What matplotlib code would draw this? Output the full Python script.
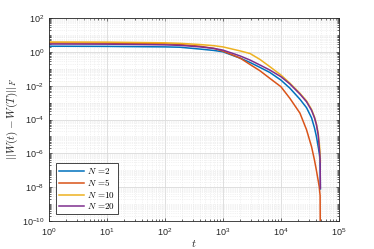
import numpy as np
import matplotlib
matplotlib.use("Agg")
import matplotlib.pyplot as plt
from matplotlib.ticker import FuncFormatter, LogLocator, FixedLocator, NullFormatter

plt.rcParams["font.family"] = ["Liberation Sans", "DejaVu Sans"]
plt.rcParams["mathtext.fontset"] = "cm"

# =========================
# DATA
# =========================
t = [1, 10, 100, 181, 400, 700, 1000, 1500, 2000, 2940, 4350, 6460, 10000,
     14300, 21300, 27700, 33800, 38000, 41000, 44000, 46000, 47500, 48000]

err_n2 = [2.14, 2.09, 1.95, 1.86, 1.45, 1.20, 1.0, 0.60, 0.417, 0.234, 0.120,
          0.060, 0.0214, 7.1e-3, 1.58e-3, 5.0e-4, 1.26e-4, 3.2e-5, 1e-5,
          2.5e-6, 1e-6, 4e-7, 7.9e-9]
err_n5 = [3.31, 3.24, 2.95, 2.69, 2.14, 1.58, 1.10, 0.63, 0.417, 0.178, 0.076,
          0.0269, 8.7e-3, 1.78e-3, 2.4e-4, 2.5e-5, 2.5e-6, 4e-7, 1e-7,
          2.5e-8, 1e-8, 3.2e-9, 1e-12]
err_n10 = [3.80, 3.72, 3.39, 3.16, 2.69, 2.29, 1.95, 1.41, 1.12, 0.79, 0.355,
           0.132, 0.0427, 0.0141, 3.55e-3, 1.26e-3, 3.98e-4, 1.41e-4, 5.6e-5,
           1.58e-5, 3.98e-6, 1e-6, 3.2e-7]
err_n20 = [2.88, 2.82, 2.57, 2.40, 1.95, 1.58, 1.26, 0.79, 0.56, 0.324, 0.166,
           0.083, 0.034, 0.0126, 3.2e-3, 1.12e-3, 3.5e-4, 1.26e-4, 5e-5,
           1.26e-5, 2e-6, 5e-7, 8.7e-9]

labels = [r"$N\,=\!2$", r"$N\,=\!5$", r"$N\,=\!10$", r"$N\,=\!20$"]
colors = ["#0072BD", "#D95319", "#EDB120", "#7E2F8E"]

# =========================
# PLOT
# =========================
fig = plt.figure(figsize=(3.74, 2.49), dpi=100)
ax = fig.add_axes([0.131, 0.112, 0.775, 0.816])

for y, lab, c in zip([err_n2, err_n5, err_n10, err_n20], labels, colors):
    ax.loglog(t, y, color=c, lw=1.1, label=lab)

ax.set_xlim(1, 1e5)
ax.set_ylim(1e-10, 1e2)

ax.xaxis.set_major_locator(FixedLocator([10.0**k for k in range(0, 6)]))
ax.yaxis.set_major_locator(FixedLocator([10.0**k for k in range(-10, 3, 2)]))
ax.yaxis.set_minor_locator(LogLocator(base=10, subs=np.arange(1, 10), numticks=30))
ax.xaxis.set_minor_locator(LogLocator(base=10, subs=np.arange(2, 10), numticks=30))

fmt = FuncFormatter(lambda v, p: r"$\mathregular{10^{%d}}$" % round(np.log10(v)))
ax.xaxis.set_major_formatter(fmt)
ax.yaxis.set_major_formatter(fmt)
ax.xaxis.set_minor_formatter(NullFormatter())
ax.yaxis.set_minor_formatter(NullFormatter())

ax.grid(True, which="major", color="#d9d9d9", lw=0.6)
ax.grid(True, which="minor", color="#e6e6e6", lw=0.5, ls=":")
ax.set_axisbelow(True)

ax.tick_params(which="both", direction="in", top=True, right=True,
               colors="#262626", labelsize=6.5, length=2.5, width=0.5)
ax.tick_params(which="minor", length=1.5)
for s in ax.spines.values():
    s.set_color("#262626")
    s.set_linewidth(0.6)

ax.set_xlabel(r"$t$", fontsize=8, color="#262626", labelpad=0)
ax.set_ylabel(r"$||W(t)-W(T)||_F$", fontsize=8, color="#262626", labelpad=1)

leg = ax.legend(loc="lower left", fontsize=6.5, frameon=True, fancybox=False,
                edgecolor="#262626", framealpha=1, borderpad=0.3,
                handlelength=2.8, labelspacing=0.15, borderaxespad=0.8,
                handletextpad=0.3)
leg.get_frame().set_linewidth(0.6)

plt.savefig("out.png", dpi=100)
